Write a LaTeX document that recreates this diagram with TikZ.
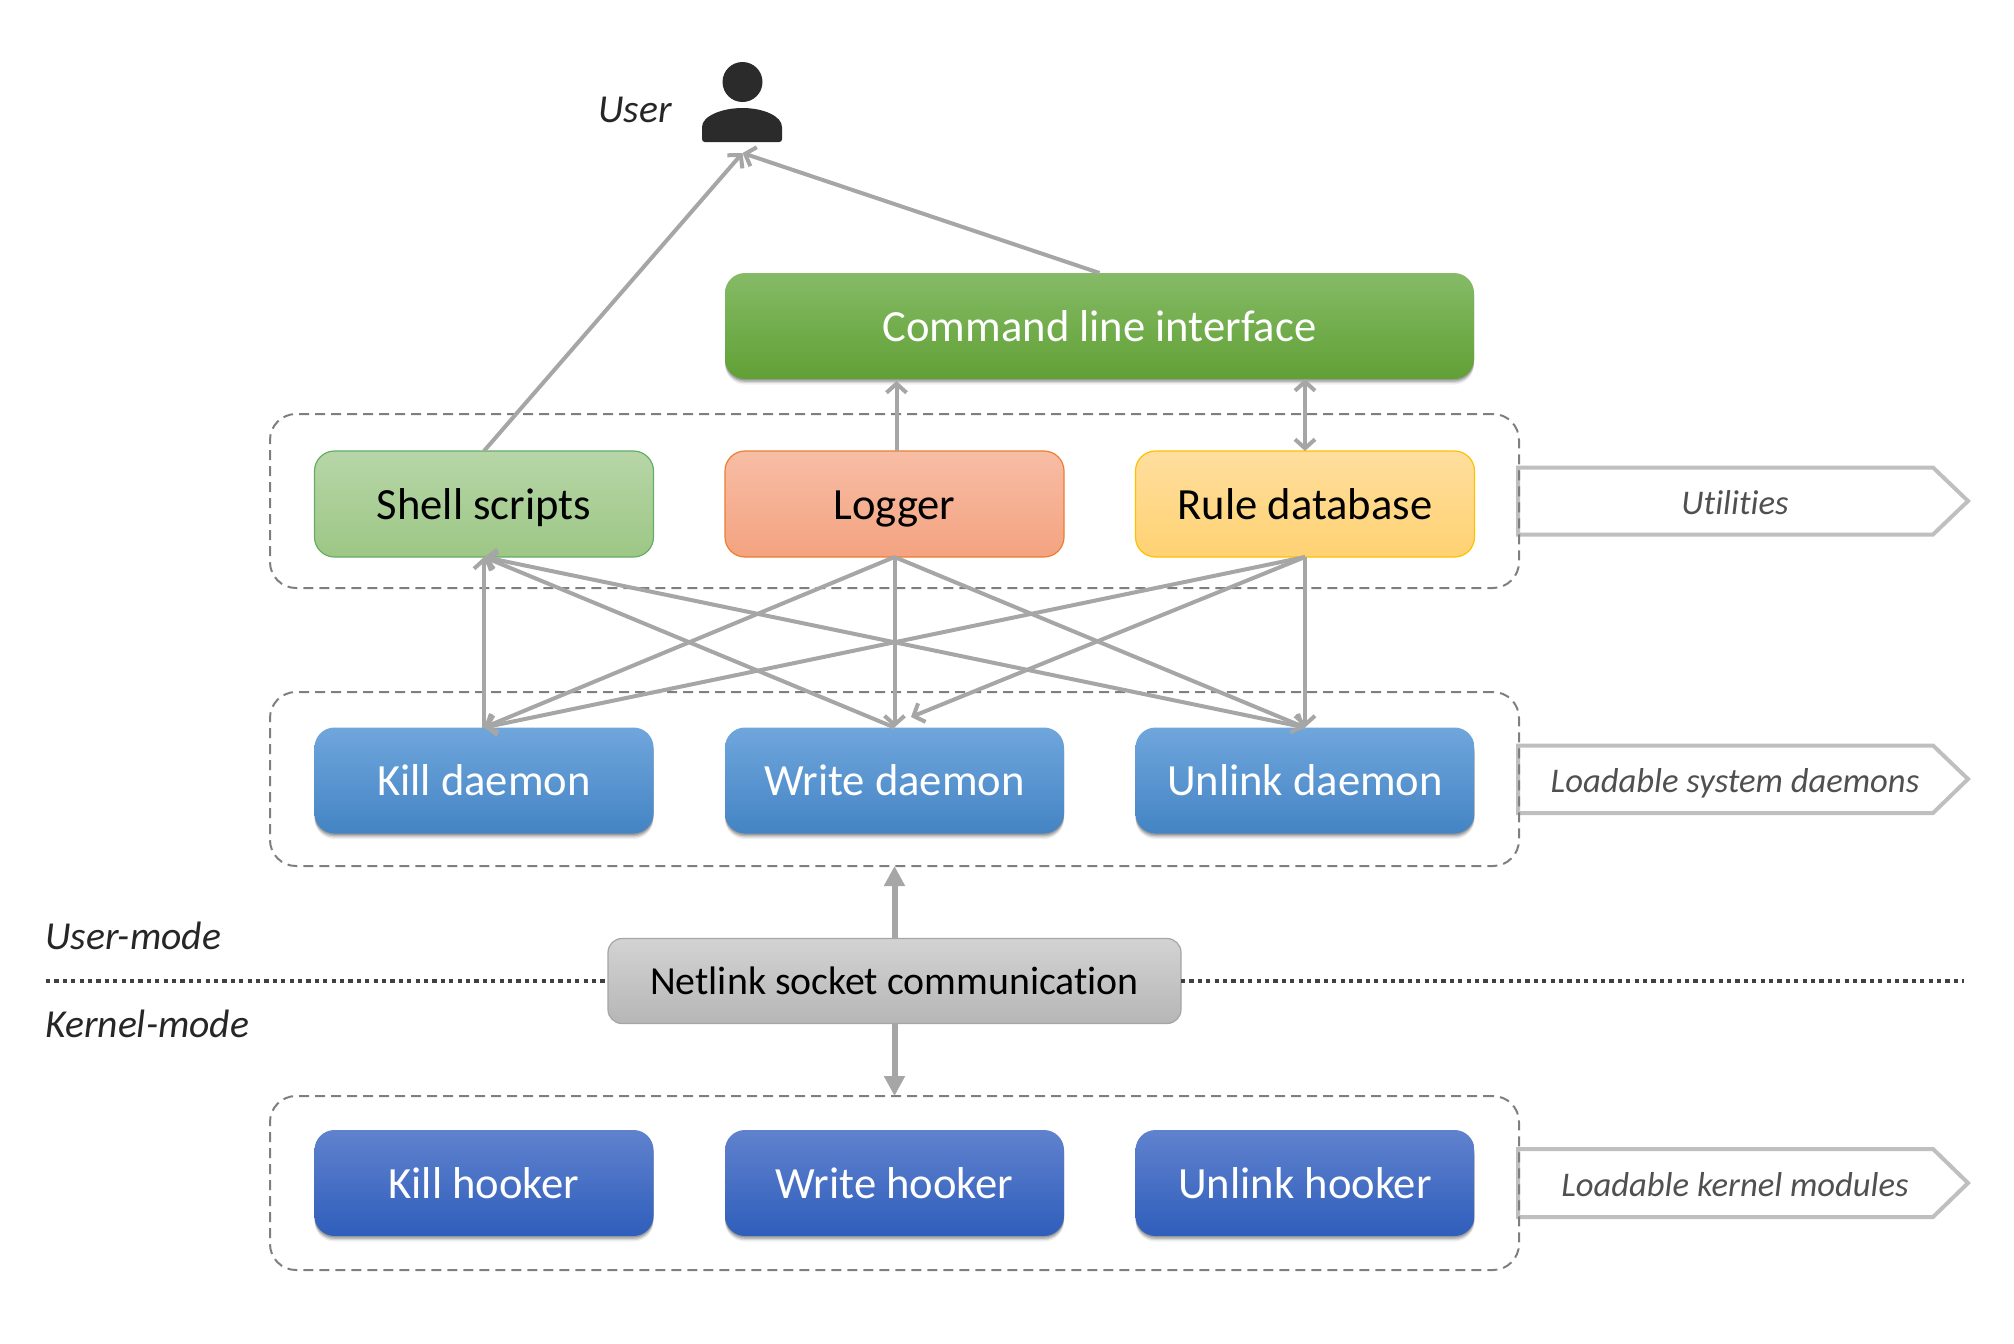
\documentclass[tikz,border=0pt]{standalone}
\usepackage{fontspec}
\setmainfont[Ligatures=NoCommon]{Carlito}
\usetikzlibrary{arrows.meta, shadows}

\definecolor{linegray}{HTML}{A6A6A6}
\definecolor{taggray}{HTML}{BFBFBF}
\definecolor{dashgray}{HTML}{7F7F7F}
\definecolor{dotgray}{HTML}{404040}
\definecolor{tagtext}{HTML}{505050}
\definecolor{modetext}{HTML}{262626}
\definecolor{usercol}{HTML}{2B2B2B}

\tikzset{
  box/.style={rectangle, rounded corners=10pt, inner sep=0pt, outer sep=0pt,
    minimum width=169.5pt, minimum height=53pt,
    text height=15pt, text depth=0pt, font=\fontsize{22.3}{24}\selectfont},
  softshadow/.style={
    drop shadow={shadow xshift=0pt, shadow yshift=-.7pt, opacity=.16, fill=black},
    drop shadow={shadow xshift=0pt, shadow yshift=-1.4pt, opacity=.14, fill=black},
    drop shadow={shadow xshift=0pt, shadow yshift=-2.1pt, opacity=.1, fill=black},
    drop shadow={shadow xshift=0pt, shadow yshift=-2.8pt, opacity=.06, fill=black}},
  greenb/.style={box, draw=green!45!black!60!white, line width=.6pt, top color=SSa, bottom color=SSb},
  orangeb/.style={box, draw=LGd, line width=.6pt, top color=LGa, bottom color=LGb},
  yellowb/.style={box, draw=RDd, line width=.6pt, top color=RDa, bottom color=RDb},
  blueb/.style={box, softshadow, text=white, top color=KDa, middle color=KDm, bottom color=KDb},
  navyb/.style={box, softshadow, text=white, top color=KHa, middle color=KHm, bottom color=KHb},
  cmdb/.style={box, softshadow, text=white, minimum width=374.5pt, top color=CLa, middle color=CLm, bottom color=CLb},
  netb/.style={box, rounded corners=7pt, draw=NLd, line width=.6pt, top color=NLa, bottom color=NLb,
    minimum width=286.5pt, minimum height=42.5pt, text height=13.5pt,
    font=\fontsize{19.9}{22}\selectfont},
  group/.style={rectangle, rounded corners=13pt, draw=dashgray, line width=1pt,
    dash pattern=on 5pt off 3pt, inner sep=0pt, outer sep=0pt,
    minimum width=624.5pt, minimum height=87pt},
  link/.style={draw=linegray, line width=2pt, -{Straight Barb[length=4.5pt, width=10pt]}},
  biglink/.style={draw=linegray, line width=3pt, -{Triangle[length=10pt, width=10pt]}, shorten >=0pt},
  tagshape/.style={draw=taggray, line width=2pt, miter limit=10},
  tag/.style={anchor=base, text=tagtext, inner sep=0pt, font=\fontsize{17.3}{20}\selectfont\itshape},
  mode/.style={anchor=base west, text=modetext, inner sep=0pt, font=\fontsize{19.8}{22}\selectfont\itshape},
}
\definecolor{SSa}{HTML}{B7D6A8}\definecolor{SSb}{HTML}{9DC785}
\definecolor{LGa}{HTML}{F7BDA5}\definecolor{LGb}{HTML}{F4A380}\definecolor{LGd}{HTML}{ED7D31}
\definecolor{RDa}{HTML}{FFDE9E}\definecolor{RDb}{HTML}{FFD272}\definecolor{RDd}{HTML}{FFC000}
\definecolor{KDa}{HTML}{6FA6DC}\definecolor{KDm}{HTML}{5B9BD9}\definecolor{KDb}{HTML}{4484C4}
\definecolor{KHa}{HTML}{6082CE}\definecolor{KHm}{HTML}{4472C4}\definecolor{KHb}{HTML}{2F5EBB}
\definecolor{CLa}{HTML}{85BB66}\definecolor{CLm}{HTML}{6FAF41}\definecolor{CLb}{HTML}{61A035}
\definecolor{NLa}{HTML}{D3D3D3}\definecolor{NLb}{HTML}{B6B6B6}\definecolor{NLd}{HTML}{A5A5A5}

\begin{document}
\begin{tikzpicture}[x=0.5pt, y=-0.5pt, line join=miter]
    \useasboundingbox (0,0) rectangle (2014,1344);

    % 1. Tags on the right
    \draw[tagshape] (1518,467.5) -- (1933,467.5) -- (1968,501) -- (1933,534.5) -- (1518,534.5) -- cycle;
    \draw[tagshape] (1518,745.5) -- (1933,745.5) -- (1968,779) -- (1933,813) -- (1518,813) -- cycle;
    \draw[tagshape] (1518,1149) -- (1933,1149) -- (1968,1183) -- (1933,1217) -- (1518,1217) -- cycle;
    \node[tag] (TU) at (1735,514) {Utilities};
    \node[tag] (TD) at (1735,792) {Loadable system daemons};
    \node[tag] (TK) at (1735,1196) {Loadable kernel modules};

    % 2. Dashed groups
    \node[group] (GU) at (894.5,501) {};
    \node[group] (GD) at (894.5,779) {};
    \node[group] (GK) at (894.5,1183) {};

    % 3. User
    \fill[usercol] (742.5,82) circle (10pt);
    \fill[usercol] (702,139) -- (702,127) .. controls (702,116) and (722,108) .. (742.5,108)
        .. controls (763,108) and (782,116) .. (782,127) -- (782,139)
        .. controls (782,141) and (781,142) .. (779,142) -- (705,142)
        .. controls (703,142) and (702,141) .. (702,139) -- cycle;
    \node[mode] (UL) at (598,122) {User};
    \coordinate (UA) at (742.5,153);

    % 4. Boxes
    \node[cmdb] (CLI) at (1099.5,326) {Command line interface};
    \node[greenb] (SS) at (484,504) {Shell scripts};
    \node[orangeb] (LG) at (894.5,504) {Logger};
    \node[yellowb] (RD) at (1305,504) {Rule database};
    \node[blueb] (KD) at (484,780.5) {Kill daemon};
    \node[blueb] (WD) at (894.5,780.5) {Write daemon};
    \node[blueb] (UD) at (1305,780.5) {Unlink daemon};
    \node[navyb] (KH) at (484,1183) {Kill hooker};
    \node[navyb] (WH) at (894.5,1183) {Write hooker};
    \node[navyb] (UH) at (1305,1183) {Unlink hooker};

    % 5. Netlink and the mode line
    \node[netb] (NL) at (894.5,981) {Netlink socket communication};
    \coordinate (ML) at (46,981);
    \coordinate (MR) at (1964,981);
    \draw[dotgray, line width=2.3pt, dash pattern=on 2.1pt off 2.1pt] (ML) -- (NL.west);
    \draw[dotgray, line width=2.3pt, dash pattern=on 2.1pt off 2.1pt] (NL.east) -- (MR);
    \node[mode] (MU) at (45,949) {User-mode};
    \node[mode] (MK) at (45,1037) {Kernel-mode};

    % 6. Connectors
    \draw[link] (SS.north) -- (UA);
    \draw[link] (CLI.north) -- (UA);
    \coordinate (LT) at (896.5,451);
    \coordinate (LC) at (896.5,381);
    \draw[link] (LT) -- (LC);
    \draw[link, {Straight Barb[length=4.5pt, width=10pt]}-{Straight Barb[length=4.5pt, width=10pt]}] (CLI.south -| RD.north) -- (RD.north);

    \draw[link] (KD.north) -- (SS.south);
    \draw[link] (WD.north) -- (SS.south);
    \draw[link] (UD.north) -- (SS.south);
    \draw[link] (LG.south) -- (KD.north);
    \draw[link] (LG.south) -- (WD.north);
    \draw[link] (LG.south) -- (UD.north);
    \coordinate (WR) at (911,717);
    \draw[link] (RD.south) -- (KD.north);
    \draw[link] (RD.south) -- (WR);
    \draw[link] (RD.south) -- (UD.north);

    \draw[biglink] (NL.north) -- (GD.south);
    \draw[biglink] (NL.south) -- (GK.north);
\end{tikzpicture}
\end{document}
